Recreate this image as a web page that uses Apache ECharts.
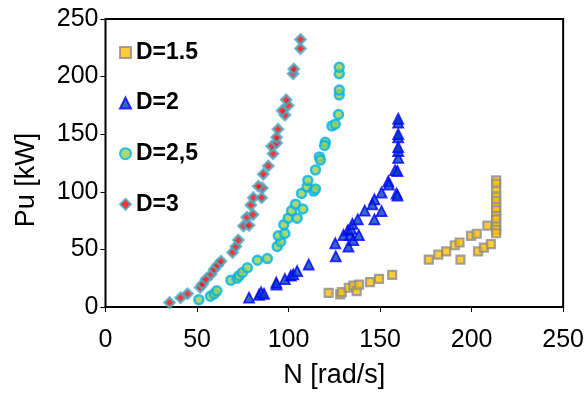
<!DOCTYPE html>
<html>
<head>
<meta charset="utf-8">
<script src="https://cdn.jsdelivr.net/npm/echarts@6/dist/echarts.min.js"></script>
<style>
html,body{margin:0;padding:0;background:#fff;}
#chart{width:587px;height:394px;}
</style>
</head>
<body>
<div id="chart"></div>
<script>
// Series names
const seriesNames = ['D=1.5', 'D=2', 'D=2,5', 'D=3'];
// Axis ticks
const xTicks = [0, 50, 100, 150, 200, 250];
const yTicks = [0, 50, 100, 150, 200, 250];

// [N rad/s, Pu kW]
const d15 = [
  [121.9,12.3],[128.2,11.0],[129.1,12.9],[132.9,16.7],[135.4,18.5],[137.2,13.8],[138.5,19.5],[144.5,21.6],[149.4,24.4],[156.6,27.8],
  [176.6,41.2],[181.8,45.4],[186.1,48.2],[190.8,53.6],[193.4,56.0],[193.9,41.2],[199.7,61.7],[202.8,63.6],[203.5,48.2],[206.7,51.6],[210.5,54.5],[208.6,70.6],
  [213.4,110],[213.4,107],[213.4,101],[213.4,96],[213.4,92],[213.4,87],[213.4,84],[213.4,79],[213.4,76],[213.4,70],[213.4,67],[213.4,64]
];
const d2 = [
  [78.4,8.1],[83.9,10.6],[85.0,12.7],[86.6,11.5],[93.4,19.5],[93.3,21.2],[98.0,24.2],[101.2,27.2],[102.6,28.4],[104.7,31.2],[111.0,36.9],
  [125.8,44.0],[125.5,55.3],[130.0,62.4],[132.7,52.5],[132.4,66.6],[133.7,62.4],[135.4,58.1],[138.4,62.4],[134.2,67.9],[134.9,72.2],
  [137.8,76.0],[141.6,83.6],[146.9,76.0],[146.9,93.4],[145.8,89.1],[150.8,83.2],[150.8,99.3],[154.5,109.1],[154.8,106.3],
  [158.2,118.8],[159.5,118.0],[159.0,98.5],[159.5,96.8],[159.9,129.5],[159.9,135.4],[159.9,138.8],[159.9,147.3],[159.9,150.1],[159.9,160.0],[159.9,163.4]
];
const d25 = [
  [51.0,6.4],[57.3,9.3],[59.4,11.5],[60.8,14.0],[68.5,23.3],[71.9,25.0],[73.0,27.2],[74.8,29.9],[77.5,34.1],[83.0,40.6],[88.4,42.0],
  [93.8,52.5],[95.7,56.7],[94.4,61.8],[98.0,63.8],[97.4,71.5],[99.8,77.1],[104.7,77.1],[101.6,83.6],[103.8,89.3],[107.8,85.1],
  [107.1,98.6],[110.1,104.2],[110.5,109.9],[113.7,100.6],[114.7,102.5],[114.7,119.0],[116.8,130.3],[117.4,127.5],[120.1,143.0],
  [119.7,140.2],[123.7,157.2],[125.5,158.6],[127.3,167.1],[127.7,184.0],[127.7,188.3],[127.7,202.5],[127.7,208.1]
];
const d3 = [
  [35.0,3.8],[41.0,8.0],[44.8,11.5],[51.7,17.1],[53.1,19.9],[54.9,24.2],[57.7,28.4],[59.4,32.7],[61.2,36.3],[63.1,39.7],
  [69.4,47.4],[71.2,52.5],[72.6,58.1],[75.4,70.3],[78.4,70.9],[77.2,77.9],[80.6,80.2],[79.4,88.5],[80.8,94.9],[85.3,94.9],
  [85.7,103.4],[83.5,104.8],[86.2,115.3],[88.9,122.4],[91.5,133.1],[90.8,139.6],[93.5,142.4],[93.5,147.3],[94.2,154.3],
  [98.0,166.6],[96.5,170.5],[99.8,175.0],[98.7,179.8],[102.5,202.5],[102.9,206.7],[106.5,224.3],[106.5,232.2]
];

const FONT = '"Liberation Sans", Arial, sans-serif';
const chart = echarts.init(document.getElementById('chart'), null, {renderer: 'canvas'});

const styles = [
  {symbol: 'rect', size: 8, item: {color: '#FFC000', borderColor: '#8C8C8C', borderWidth: 2.2}},
  {symbol: 'triangle', size: [10, 10], item: {color: '#0044B8', borderColor: '#0000FF', borderWidth: 1.8}},
  {symbol: 'circle', size: 9, item: {color: '#92D050', borderColor: '#00B0F0', borderWidth: 2.5}},
  {symbol: 'diamond', size: 10, item: {color: '#FF0000', borderColor: '#4BACC6', borderWidth: 2.6}}
];
const datasets = [d15, d2, d25, d3];

chart.setOption({
  animation: false,
  backgroundColor: '#ffffff',
  grid: {left: 105.5, right: 20.5, top: 19, bottom: 80, show: true, borderColor: '#000', borderWidth: 2, backgroundColor: 'transparent'},
  legend: {
    orient: 'vertical', left: 114, top: 36,
    itemWidth: 11, itemHeight: 11, itemGap: 27.6, itemTextGap: 7,
    data: seriesNames,
    textStyle: {fontFamily: FONT, fontWeight: 'bold', fontSize: 23, lineHeight: 23, color: '#000'}
  },
  xAxis: {
    type: 'value', min: xTicks[0], max: xTicks[xTicks.length - 1], interval: 50,
    name: 'N [rad/s]', nameLocation: 'middle', nameGap: 55,
    nameTextStyle: {fontFamily: FONT, fontSize: 27, color: '#000'},
    axisLine: {show: true, lineStyle: {color: '#000', width: 2}},
    axisTick: {show: true, inside: false, length: 5, lineStyle: {color: '#000'}},
    axisLabel: {margin: 21, fontFamily: FONT, fontSize: 25, color: '#000'},
    splitLine: {show: false}
  },
  yAxis: {
    type: 'value', min: yTicks[0], max: yTicks[yTicks.length - 1], interval: 50,
    name: 'Pu [kW]', nameLocation: 'middle', nameGap: 65,
    nameTextStyle: {fontFamily: FONT, fontSize: 27, color: '#000', padding: [0, 34, 0, 0]},
    axisLine: {show: true, lineStyle: {color: '#000', width: 1}},
    axisTick: {show: true, inside: false, length: 5, lineStyle: {color: '#000'}},
    axisLabel: {margin: 7, fontFamily: FONT, fontSize: 25, color: '#000'},
    splitLine: {show: false}
  },
  series: seriesNames.map((name, i) => ({
    name: name, type: 'scatter',
    symbol: styles[i].symbol, symbolSize: styles[i].size,
    itemStyle: styles[i].item,
    data: datasets[i]
  }))
});
</script>
</body>
</html>
